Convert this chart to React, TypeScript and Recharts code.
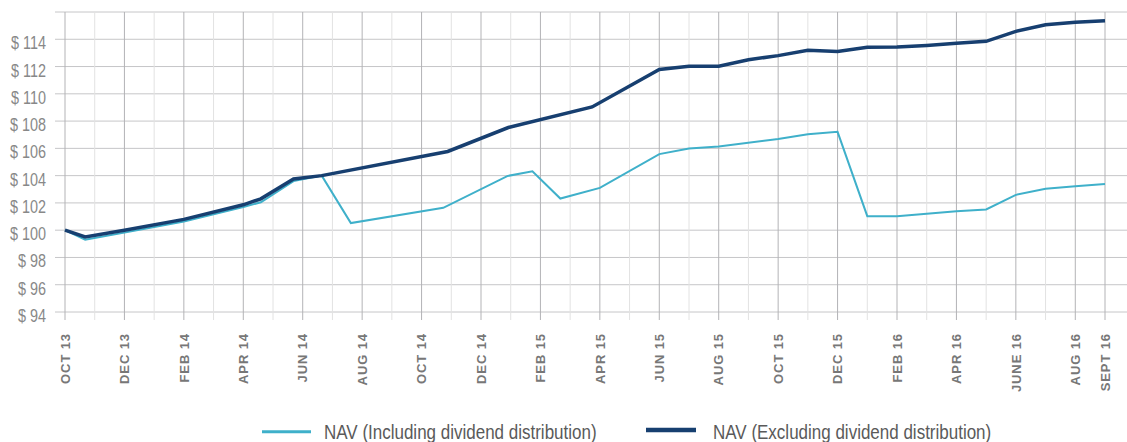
import React from 'react';
import { LineChart, Line, XAxis, YAxis, CartesianGrid, ReferenceLine } from 'recharts';

// one slot per month, OCT 13 .. SEPT 16; blank = no label
const tickLabels = [
  'OCT 13', '', 'DEC 13', '', 'FEB 14', '', 'APR 14', '', 'JUN 14', '', 'AUG 14', '',
  'OCT 14', '', 'DEC 14', '', 'FEB 15', '', 'APR 15', '', 'JUN 15', '', 'AUG 15', '',
  'OCT 15', '', 'DEC 15', '', 'FEB 16', '', 'APR 16', '', 'JUNE 16', '', 'AUG 16', 'SEPT 16',
];
const yTicks = [94, 96, 98, 100, 102, 104, 106, 108, 110, 112, 114];
const seriesNames = ['NAV (Including dividend distribution)', 'NAV (Excluding dividend distribution)'];

// month offsets (0 = OCT 13) and NAV values
const inclMonths = [0, 0.68, 2, 4, 6, 6.59, 7.69, 8.64, 9.62, 12.73, 14.9, 15.73, 16.67, 18, 20, 21, 22, 24, 25, 26, 27, 28, 29, 30, 31, 32, 33, 34, 35];
const inclNav = [100, 99.3, 99.82, 100.64, 101.69, 102.05, 103.6, 104.0, 100.52, 101.64, 103.98, 104.32, 102.32, 103.1, 105.58, 105.99, 106.14, 106.68, 107.04, 107.21, 101.03, 101.03, 101.2, 101.39, 101.52, 102.59, 103.03, 103.22, 103.39];

const exclMonths = [0, 0.68, 2, 4, 6, 6.59, 7.69, 8.64, 12.88, 14.92, 17.74, 20, 21, 22, 23, 24, 25, 26, 27, 28, 29, 30, 31, 32, 33, 34, 35];
const exclNav = [100, 99.5, 99.99, 100.79, 101.86, 102.3, 103.76, 104.0, 105.77, 107.53, 109.04, 111.79, 112.03, 112.03, 112.5, 112.8, 113.2, 113.1, 113.42, 113.44, 113.55, 113.7, 113.85, 114.58, 115.07, 115.24, 115.36];

const inclData = inclMonths.map((m, i) => ({ m, nav: inclNav[i] }));
const exclData = exclMonths.map((m, i) => ({ m, nav: exclNav[i] }));
const monthIdx = tickLabels.map((_, i) => i);

const LIGHT = '#3fb0ca';
const DARK = '#173f70';
const SANS = "'Liberation Sans', Arial, sans-serif";

const MonthTick = (props: any) => {
  const { x, y, payload } = props;
  const label = tickLabels[payload.value];
  return (
    <g>
      <line x1={x} x2={x} y1={y - 8} y2={y} stroke={label ? '#b3b3b6' : '#e2e2e2'} />
      {label && (
        <text
          x={x}
          y={y + 13}
          transform={`rotate(-90, ${x}, ${y + 13})`}
          textAnchor="end"
          dy="0.36em"
          fill="#777"
          fontSize={13}
          fontWeight="bold"
          letterSpacing={0.9}
          fontFamily={SANS}
        >
          {label}
        </text>
      )}
    </g>
  );
};

// narrow look: squeeze Liberation Sans horizontally
const NavTick = (props: any) => {
  const { x, y, payload } = props;
  return (
    <text
      transform={`translate(${x}, ${y + 10}) scale(0.8, 1)`}
      textAnchor="end"
      fill="#888"
      fontSize={18}
      fontFamily={SANS}
    >
      {`$ ${payload.value}`}
    </text>
  );
};

const LegendRow = () => (
  <svg width={1127} height={42} style={{ position: 'absolute', left: 0, top: 400 }}>
    <line x1={262} x2={311} y1={31.7} y2={31.7} stroke={LIGHT} strokeWidth={3} />
    <text transform="translate(324, 39) scale(0.85, 1)" fontSize={20} fill="#5a5a5a" fontFamily={SANS}>
      {seriesNames[0]}
    </text>
    <line x1={646} x2={696} y1={30} y2={30} stroke={DARK} strokeWidth={4.7} />
    <text transform="translate(713, 39) scale(0.85, 1)" fontSize={20} fill="#5a5a5a" fontFamily={SANS}>
      {seriesNames[1]}
    </text>
  </svg>
);

export default function App() {
  return (
    <div style={{ position: 'absolute', left: 0, top: 0, width: 1127, height: 442, overflow: 'hidden', background: '#fff' }}>
      <LineChart width={1127} height={400} margin={{ top: 12, right: 0, bottom: 0, left: 0 }}>
        <CartesianGrid vertical={false} stroke="#c6c6c8" />
        {monthIdx.map((i) => (
          <ReferenceLine key={i} x={i} stroke={tickLabels[i] ? '#b3b3b6' : '#e2e2e2'} />
        ))}
        <XAxis
          type="number"
          dataKey="m"
          domain={[0, 35]}
          ticks={monthIdx}
          interval={0}
          padding={{ left: 10, right: 22 }}
          axisLine={false}
          tickLine={false}
          tickSize={8}
          tickMargin={0}
          height={88}
          tick={<MonthTick />}
        />
        <YAxis
          type="number"
          domain={[94, 116]}
          ticks={yTicks}
          interval={0}
          width={55}
          axisLine={false}
          tickLine={false}
          tickSize={0}
          tickMargin={9}
          tick={<NavTick />}
        />
        <Line data={inclData} dataKey="nav" name={seriesNames[0]} type="linear" stroke={LIGHT} strokeWidth={2} dot={false} isAnimationActive={false} />
        <Line data={exclData} dataKey="nav" name={seriesNames[1]} type="linear" stroke={DARK} strokeWidth={3.5} dot={false} isAnimationActive={false} />
      </LineChart>
      <LegendRow />
    </div>
  );
}
